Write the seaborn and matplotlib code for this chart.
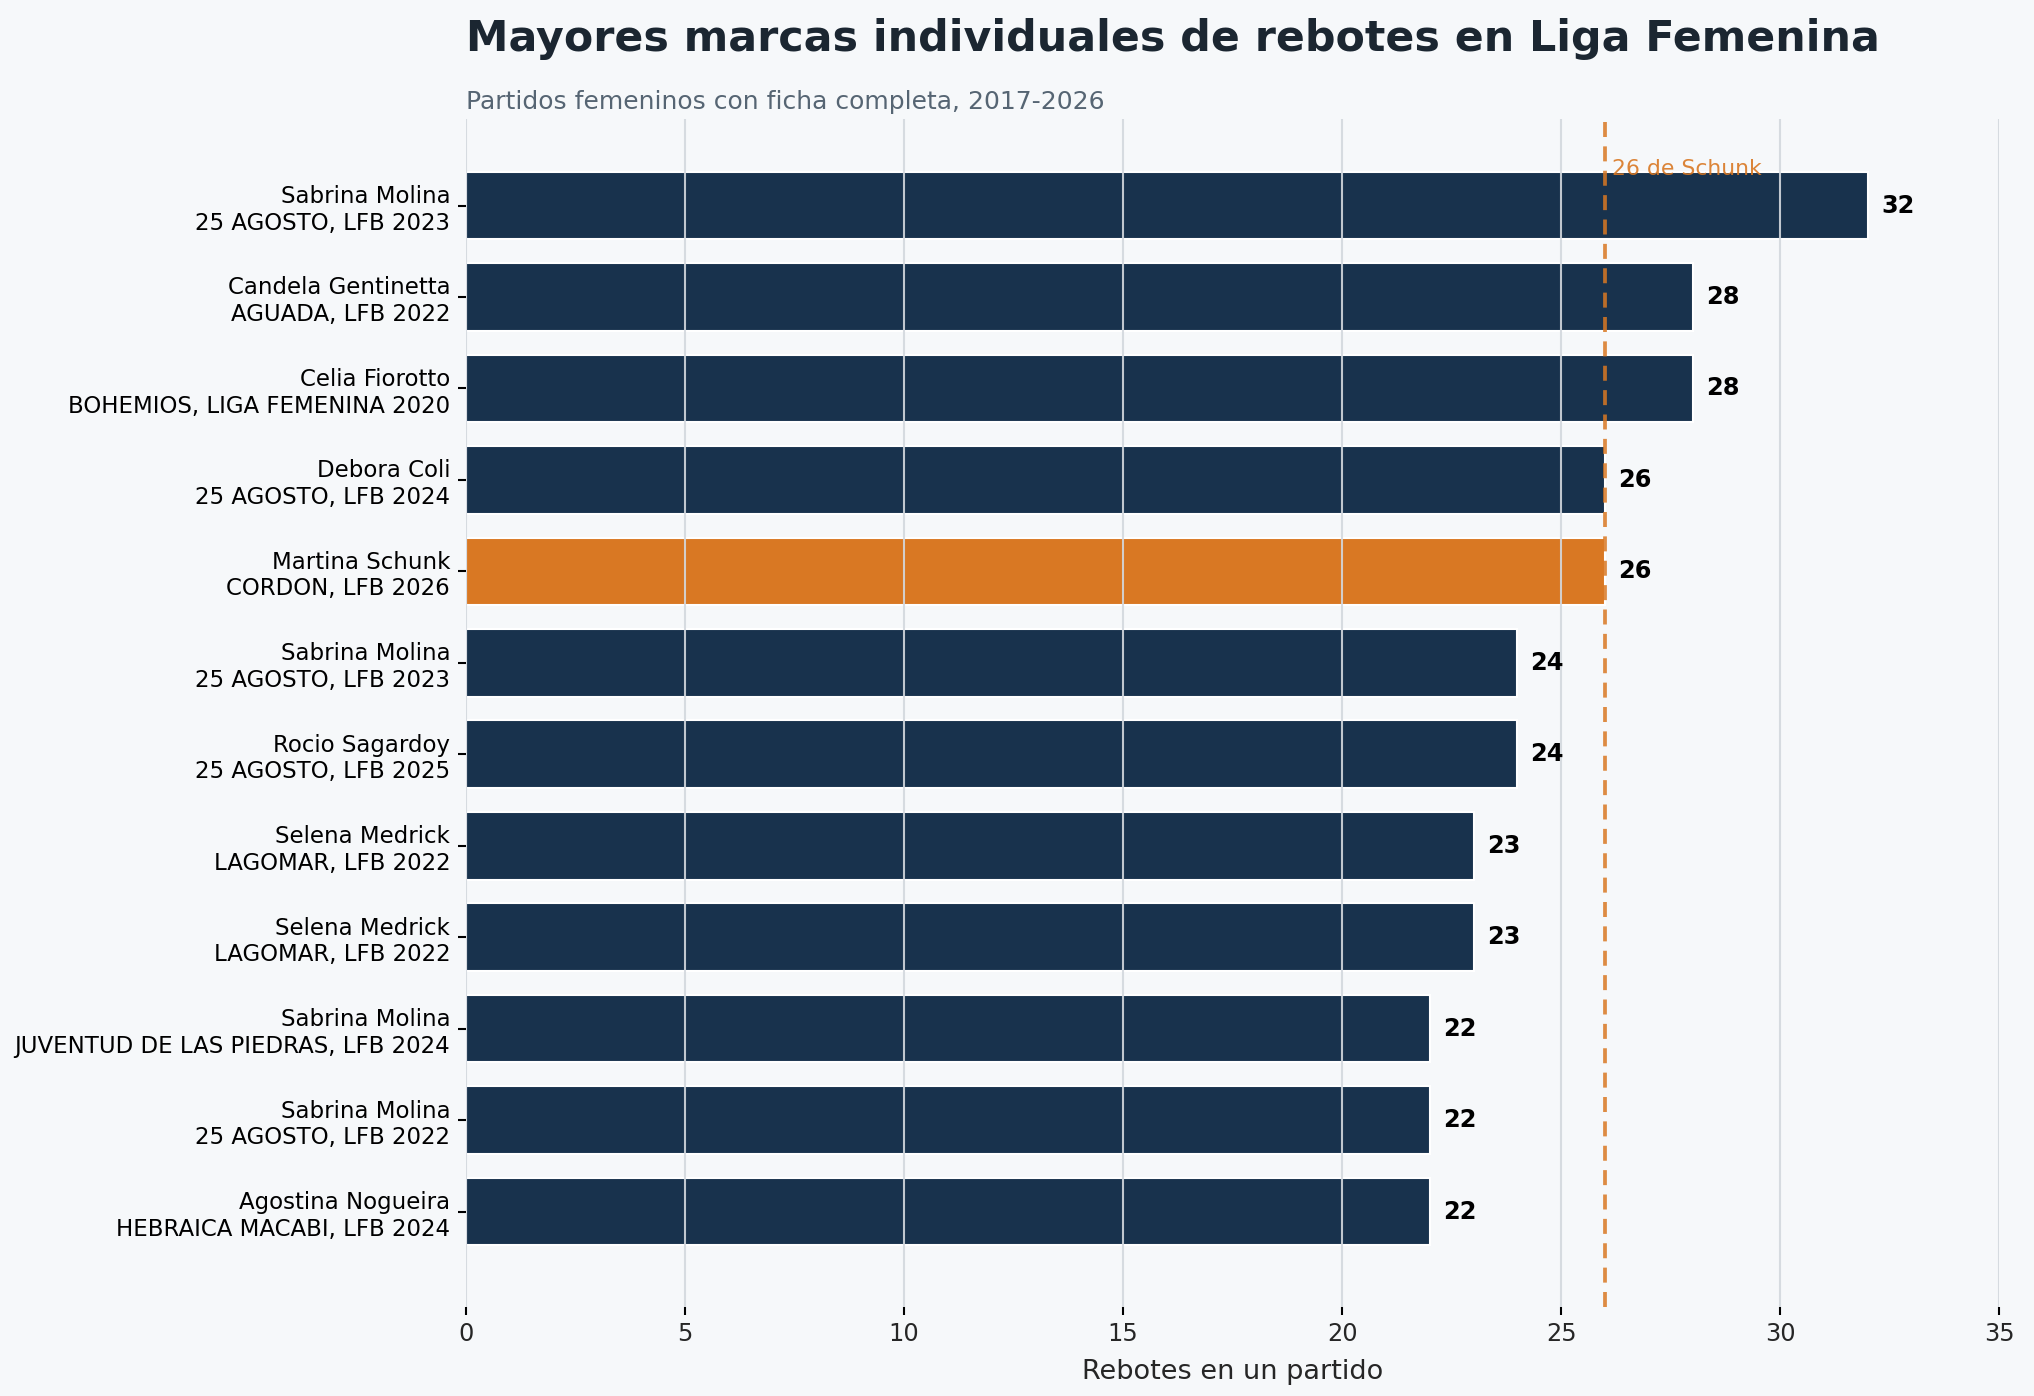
import pandas as pd
import matplotlib.pyplot as plt
import seaborn as sns

# --- Data ---
players = [
    "Sabrina Molina", "Candela Gentinetta", "Celia Fiorotto", "Debora Coli",
    "Martina Schunk", "Sabrina Molina", "Rocio Sagardoy", "Selena Medrick",
    "Selena Medrick", "Sabrina Molina", "Sabrina Molina", "Agostina Nogueira",
]
games = [
    "25 AGOSTO, LFB 2023", "AGUADA, LFB 2022", "BOHEMIOS, LIGA FEMENINA 2020",
    "25 AGOSTO, LFB 2024", "CORDON, LFB 2026", "25 AGOSTO, LFB 2023",
    "25 AGOSTO, LFB 2025", "LAGOMAR, LFB 2022", "LAGOMAR, LFB 2022",
    "JUVENTUD DE LAS PIEDRAS, LFB 2024", "25 AGOSTO, LFB 2022",
    "HEBRAICA MACABI, LFB 2024",
]
rebounds = [32, 28, 28, 26, 26, 24, 24, 23, 23, 22, 22, 22]
highlight = "Martina Schunk"
reference_value = 26

NAVY = "#18324d"
ORANGE = "#d97823"
BG = "#f6f8fa"


def main():
    labels = [f"{p}\n{g}" for p, g in zip(players, games)]
    df = pd.DataFrame({"label": labels, "player": players, "rebounds": rebounds})
    df["key"] = [f"{i}" for i in range(len(df))]
    palette = {k: (ORANGE if p == highlight else NAVY) for k, p in zip(df["key"], df["player"])}

    sns.set_theme(style="white")
    plt.rcParams["font.family"] = ["DejaVu Sans"]

    fig = plt.figure(figsize=(13.56, 9.3067), dpi=150, facecolor=BG)
    ax = fig.add_axes([0.229, 0.064, 0.754, 0.851])
    ax.set_facecolor(BG)

    sns.barplot(data=df, x="rebounds", y="key", hue="key", palette=palette,
                legend=False, width=0.74, saturation=1, ax=ax)

    ax.set_yticks(range(len(df)))
    ax.set_yticklabels(labels, fontsize=11, color="black")
    ax.set_xlim(0, 35)
    ax.set_ylim(len(df) - 1 + 1.04, -0.95)
    ax.set_xticks(range(0, 36, 5))
    ax.tick_params(axis="x", labelsize=11.5, length=4, width=1, color="black", bottom=True)
    ax.tick_params(axis="y", length=4, width=1, color="black", left=True)
    ax.set_ylabel("")
    ax.set_xlabel("Rebotes en un partido", fontsize=13, labelpad=6)

    sns.despine(ax=ax, left=True, bottom=True)
    ax.grid(axis="x", color="#d3d8de", linewidth=1, alpha=0.9)
    ax.grid(axis="y", visible=False)
    ax.set_axisbelow(False)

    # value labels
    for i, v in enumerate(rebounds):
        ax.text(v + 0.3, i, f"{v}", va="center", ha="left",
                fontsize=11.5, fontweight="bold", color="black", zorder=4)

    # reference line
    ax.axvline(reference_value, color=ORANGE, linestyle=(0, (4, 2.5)),
               linewidth=1.8, alpha=0.85, zorder=3)
    ax.text(reference_value + 0.15, -0.4, f"{reference_value} de Schunk",
            color=ORANGE, fontsize=10.5, va="center", ha="left", alpha=0.9, zorder=4)

    # titles
    fig.text(0.229, 0.972, "Mayores marcas individuales de rebotes en Liga Femenina",
             fontsize=20.5, fontweight="bold", color="#1b2631", va="center", ha="left")
    fig.text(0.229, 0.927, "Partidos femeninos con ficha completa, 2017-2026",
             fontsize=12, color="#566573", va="center", ha="left")

    fig.savefig("out.png", dpi=150, facecolor=BG)


if __name__ == "__main__":
    main()
